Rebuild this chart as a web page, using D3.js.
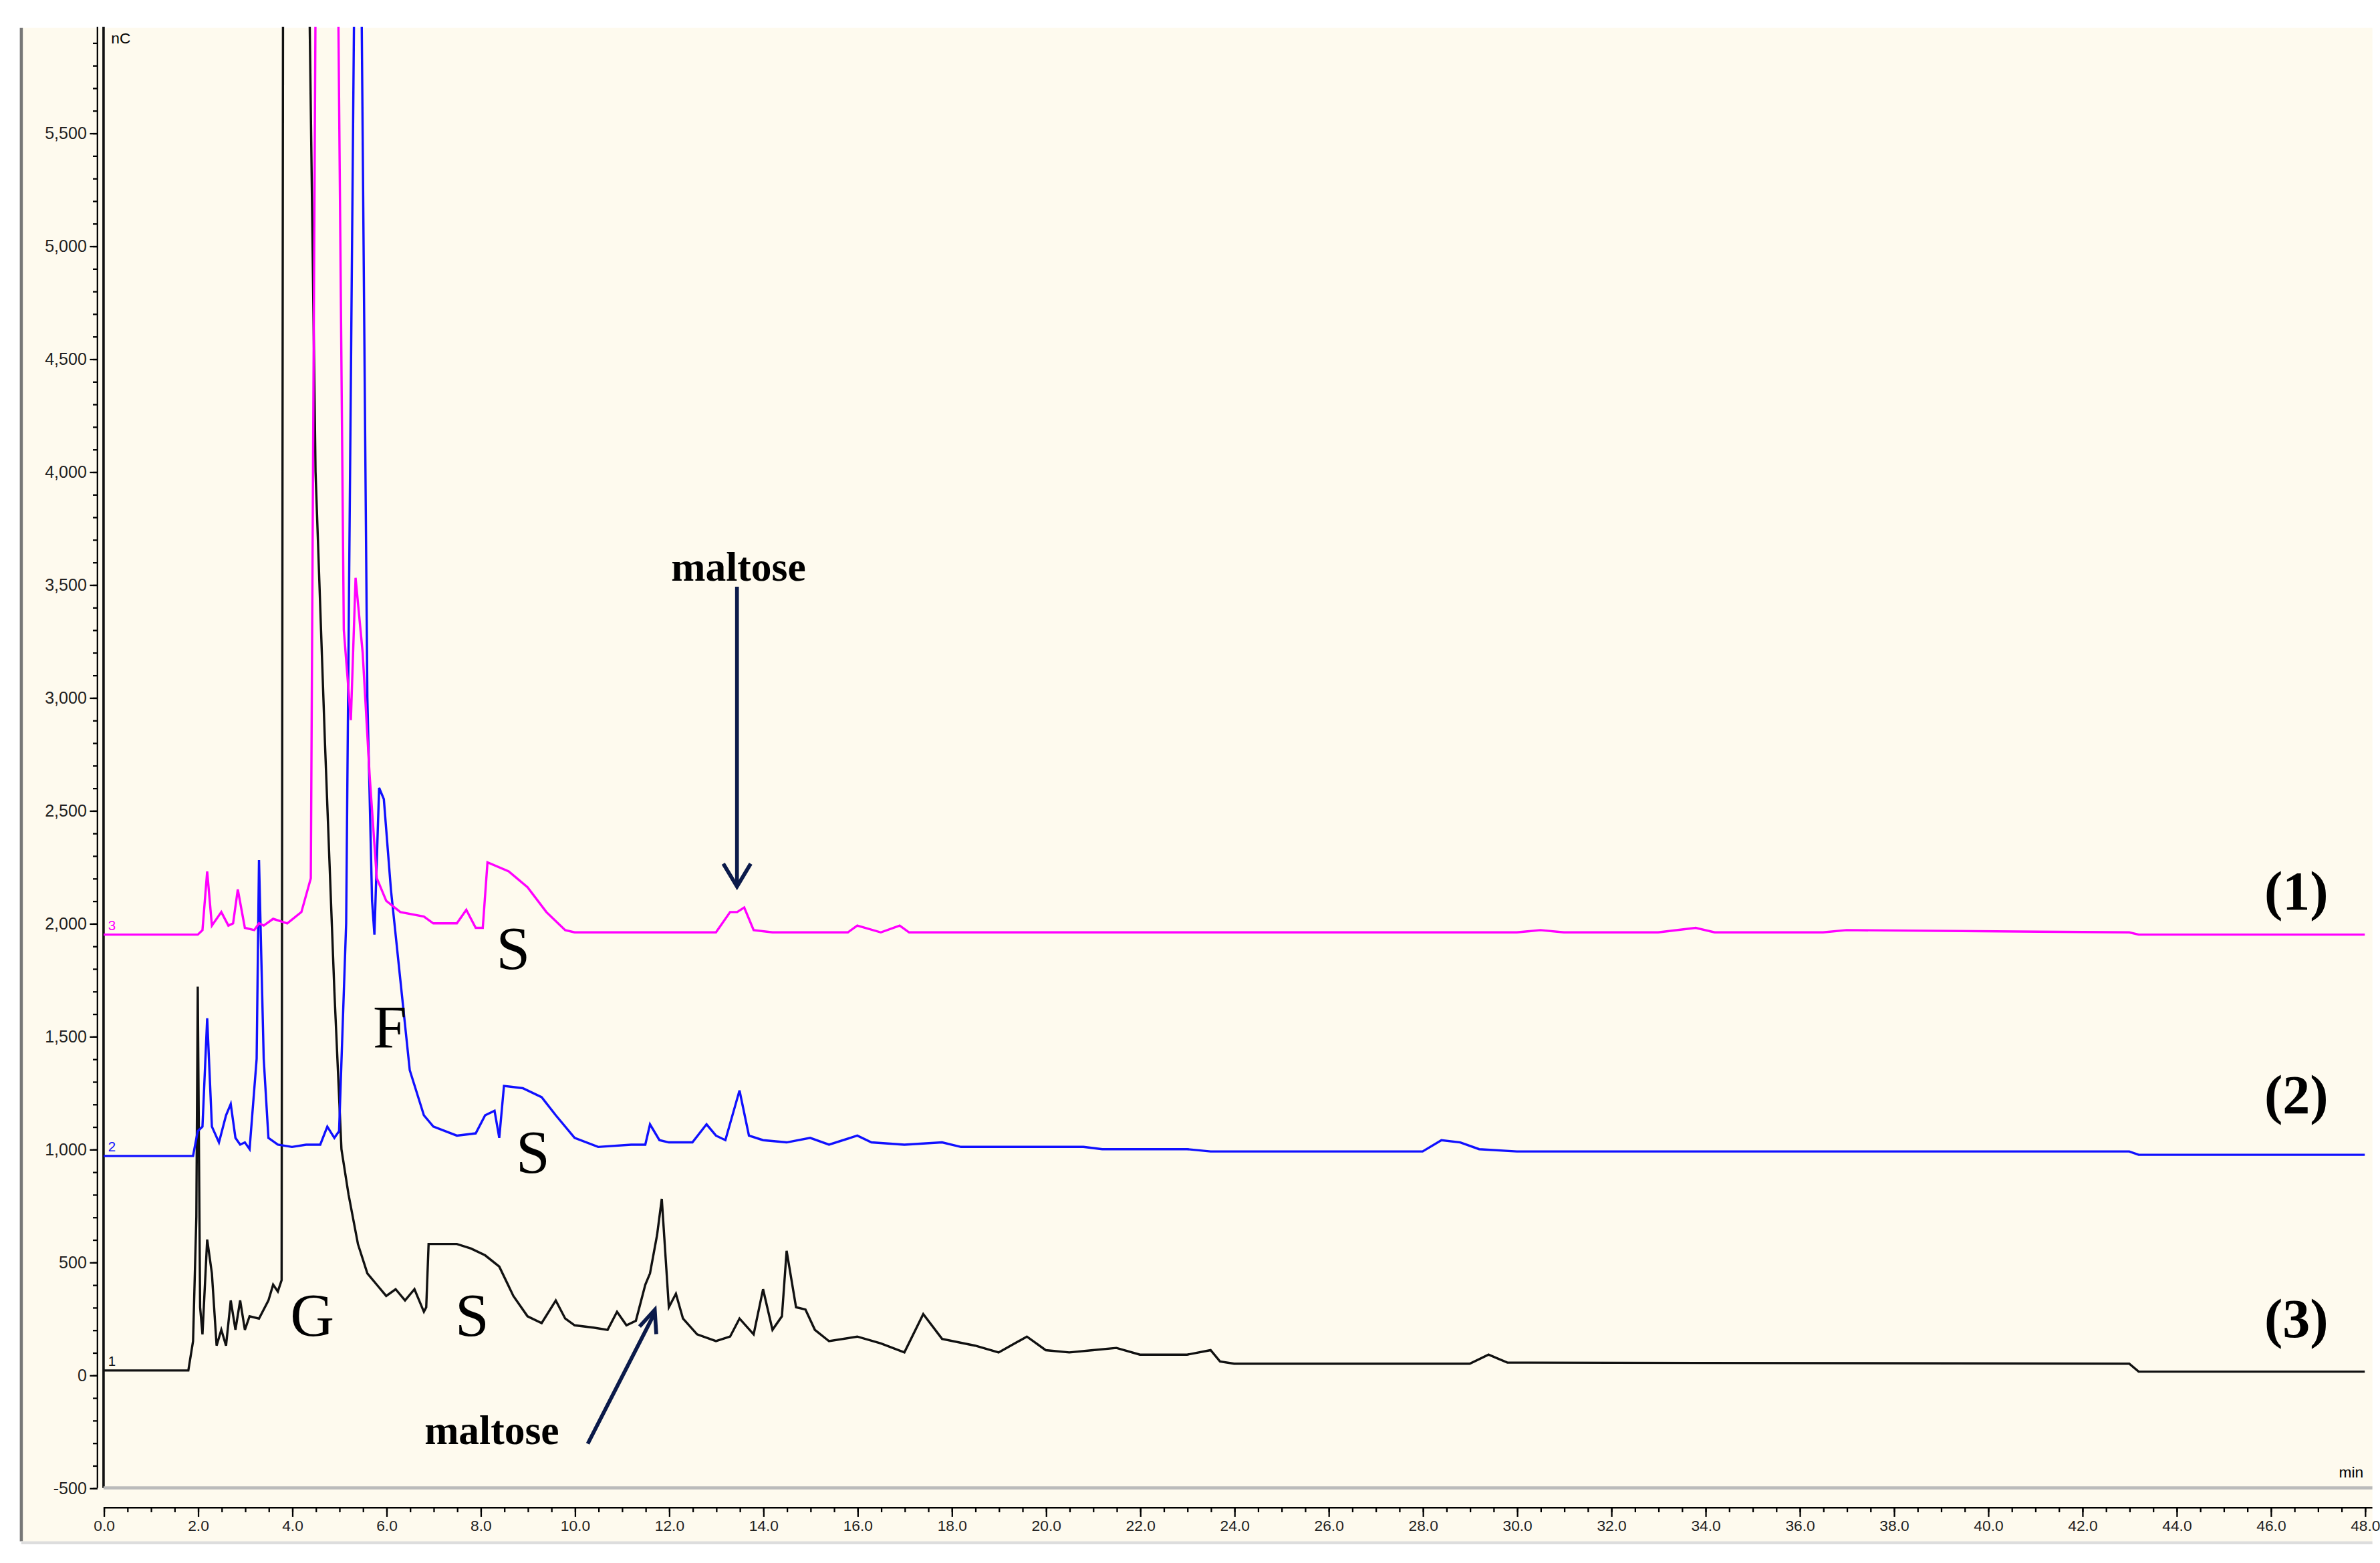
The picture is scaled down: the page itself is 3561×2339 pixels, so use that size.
<!DOCTYPE html>
<html><head><meta charset="utf-8">
<script src="https://cdn.jsdelivr.net/npm/d3@7"></script>
<style>body{margin:0;background:#fff}</style></head>
<body><svg id="c" width="3561" height="2339" viewBox="0 0 1563 1026"></svg>
<script>
// Retention time (min) / signal (nC) for each trace
const t1 = [0,1.8,1.9,1.97,2.0,2.05,2.1,2.2,2.3,2.4,2.5,2.6,2.7,2.8,2.9,3.0,3.1,3.3,3.5,3.6,3.7,3.78,3.82,4.25,4.5,4.7,4.9,5.05,5.2,5.4,5.6,5.8,6.0,6.2,6.4,6.6,6.8,6.85,6.9,7.5,7.8,8.1,8.4,8.7,9.0,9.3,9.6,9.8,10.0,10.4,10.7,10.9,11.1,11.3,11.5,11.6,11.75,11.85,12.0,12.15,12.3,12.6,13.0,13.3,13.5,13.8,14.0,14.2,14.4,14.5,14.7,14.9,15.1,15.4,16.0,16.5,17.0,17.4,17.8,18.5,19.0,19.6,20.0,20.5,21.0,21.5,22.0,23.0,23.5,23.7,24.0,29.0,29.4,29.8,43.0,43.2,48];
const v1 = [20,20,150,700,1720,300,180,600,450,130,200,130,330,200,330,200,260,250,330,400,370,420,8000,8000,4000,2800,1700,1000,800,580,450,400,350,380,330,380,280,300,580,580,560,530,480,350,260,230,330,250,220,210,200,280,220,240,400,450,620,780,300,360,250,180,150,170,250,180,380,200,260,550,300,290,200,150,170,140,100,270,160,130,100,170,110,100,110,120,90,90,110,60,50,50,90,55,50,15,15];
const t2 = [0,1.9,2.0,2.1,2.2,2.3,2.45,2.6,2.7,2.8,2.9,3.0,3.1,3.25,3.3,3.4,3.5,3.7,4.0,4.3,4.6,4.75,4.9,5.0,5.15,5.4,5.6,5.7,5.75,5.85,5.95,6.1,6.3,6.5,6.8,7.0,7.5,7.9,8.1,8.3,8.4,8.5,8.9,9.3,9.6,10.0,10.5,11.2,11.5,11.6,11.8,12.0,12.5,12.8,13.0,13.2,13.5,13.7,14.0,14.5,15.0,15.4,16.0,16.3,17.0,17.8,18.2,19,20.8,21.2,23.0,23.5,28.0,28.4,28.8,29.2,30.0,43.0,43.2,48];
const v2 = [970,970,1080,1100,1580,1100,1030,1150,1200,1050,1020,1030,1000,1400,2280,1400,1050,1020,1010,1020,1020,1100,1050,1080,2000,8000,3000,2100,1950,2600,2550,2150,1750,1350,1150,1100,1060,1070,1150,1170,1050,1280,1270,1230,1150,1050,1010,1020,1020,1110,1040,1030,1030,1110,1060,1040,1260,1060,1040,1030,1050,1020,1060,1030,1020,1030,1010,1010,1010,1000,1000,990,990,1040,1030,1000,990,990,975,975];
const t3 = [0,2.0,2.1,2.2,2.3,2.5,2.65,2.75,2.85,3.0,3.2,3.3,3.4,3.6,3.9,4.2,4.4,4.55,4.65,4.9,5.1,5.25,5.35,5.5,5.65,5.8,6.0,6.3,6.8,7.0,7.5,7.7,7.9,8.05,8.15,8.6,9.0,9.4,9.8,10.0,11,12.0,13.0,13.3,13.45,13.6,13.8,14.2,15.0,15.8,16.0,16.5,16.9,17.1,18,22,23.3,23.5,30.0,30.5,31.0,33.0,33.8,34.2,36.5,37.0,43.0,43.2,48];
const v3 = [1950,1950,1970,2230,1990,2050,1990,2000,2150,1980,1970,2000,1990,2020,2000,2050,2200,8000,8000,8000,3300,2900,3530,3200,2650,2200,2100,2050,2030,2000,2000,2060,1980,1980,2270,2230,2160,2050,1970,1960,1960,1960,1960,2050,2050,2070,1970,1960,1960,1960,1990,1960,1990,1960,1960,1960,1960,1960,1960,1970,1960,1960,1980,1960,1960,1970,1960,1950,1950];
const xTicks = d3.range(0, 48.1, 2);
const yTicks = d3.range(-500, 5501, 500);

const svg = d3.select('#c');
svg.append('rect').attr('x',14).attr('y',18).attr('width',1544).attr('height',996).attr('fill','#fefaee');
svg.append('line').attr('x1',14).attr('x2',14).attr('y1',18).attr('y2',1012).attr('stroke','#777').attr('stroke-width',2);
svg.append('line').attr('x1',14).attr('x2',1558).attr('y1',1013).attr('y2',1013).attr('stroke','#ddd').attr('stroke-width',2);

const x = d3.scaleLinear().domain([0,48]).range([68,1553]);
const y = d3.scaleLinear().domain([-500,5500]).range([977,87]);
const clipTop = y(5970);
const fmtY = d => d3.format(',')(d).replace('\u2212','-');

const yAx = svg.append('g').attr('transform','translate(64,0)')
  .call(d3.axisLeft(y).tickValues(yTicks).tickSize(5).tickPadding(2).tickFormat(fmtY));
yAx.select('.domain').attr('d',`M0,${clipTop}V${y(-500)}`);
svg.append('g').attr('transform','translate(64,0)')
  .call(d3.axisLeft(y).tickValues(d3.range(-500,5970,100)).tickSize(3).tickFormat(''))
  .select('.domain').remove();
yAx.selectAll('text').attr('font-family','Arial, Liberation Sans').attr('font-size',11).attr('fill','#222');

const xAx = svg.append('g').attr('transform','translate(0,990)')
  .call(d3.axisBottom(x).tickValues(xTicks).tickSize(6).tickPadding(2).tickFormat(d3.format('.1f')));
xAx.select('.domain').attr('d','M68,0H1558');
svg.append('g').attr('transform','translate(0,990)')
  .call(d3.axisBottom(x).tickValues(d3.range(0,48.1,0.5)).tickSize(3).tickFormat(''))
  .select('.domain').remove();
xAx.selectAll('text').attr('font-family','Arial, Liberation Sans').attr('font-size',10).attr('fill','#222');

svg.append('line').attr('x1',68).attr('x2',68).attr('y1',clipTop).attr('y2',977).attr('stroke','#111').attr('stroke-width',1.6);
svg.append('line').attr('x1',68).attr('x2',1558).attr('y1',977).attr('y2',977).attr('stroke','#bbb').attr('stroke-width',2);
svg.append('text').attr('x',73).attr('y',28).text('nC').attr('font-family','Arial').attr('font-size',10);
svg.append('text').attr('x',1536).attr('y',970).text('min').attr('font-family','Arial').attr('font-size',10);

svg.append('clipPath').attr('id','cp').append('rect').attr('x',68).attr('y',clipTop).attr('width',1490).attr('height',977-clipTop);
const line = d3.line().x(d=>x(d[0])).y(d=>y(d[1])).curve(d3.curveLinear);
const series = [[t1,v1,'#111','1'],[t2,v2,'#1010ff','2'],[t3,v3,'#ff00ff','3']];
series.forEach(([t,v,c,lab])=>{
  svg.append('path').datum(t.map((d,i)=>[d,v[i]])).attr('d',line).attr('fill','none')
    .attr('stroke',c).attr('stroke-width',1.5).attr('clip-path','url(#cp)');
  svg.append('text').attr('x',71).attr('y',y(v[0])-3).text(lab).attr('fill',c).attr('font-family','Arial').attr('font-size',9);
});

const tf = "'Times New Roman', 'Liberation Serif', serif";
const lbl = (xx,yy,s,fs,w)=>svg.append('text').attr('x',xx).attr('y',yy).attr('text-anchor','middle')
  .attr('font-family',tf).attr('font-size',fs).attr('font-weight',w||'bold').text(s);
lbl(485,381,'maltose',27,'bold');
lbl(323,948,'maltose',27,'bold');
[['(1)',1508,597],['(2)',1508,731],['(3)',1508,878]].forEach(d=>lbl(d[1],d[2],d[0],36,'bold'));
[['S',337,636],['F',256,688],['S',350,770],['G',205,877],['S',310,877]].forEach(d=>lbl(d[1],d[2],d[0],40,'normal'));
const navy='#0b1a4a';
svg.append('line').attr('x1',484).attr('y1',385).attr('x2',484).attr('y2',580).attr('stroke',navy).attr('stroke-width',2.5);
svg.append('path').attr('d','M475,567L484,582L493,567').attr('fill','none').attr('stroke',navy).attr('stroke-width',2.5);
svg.append('line').attr('x1',386).attr('y1',948).attr('x2',430).attr('y2',862).attr('stroke',navy).attr('stroke-width',2.5);
svg.append('path').attr('d','M420,871L430,860L431,876').attr('fill','none').attr('stroke',navy).attr('stroke-width',2.5);
</script></body></html>
